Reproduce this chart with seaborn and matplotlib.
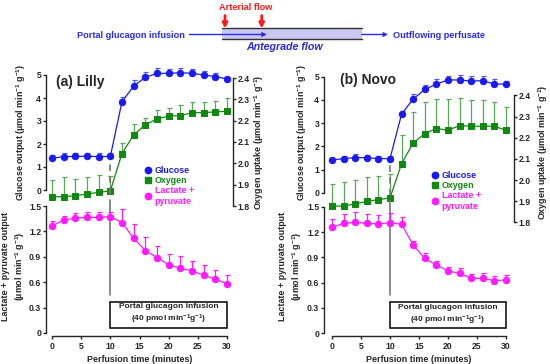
import numpy as np
import matplotlib.pyplot as plt
import seaborn as sns
from matplotlib.lines import Line2D
from matplotlib.patches import Rectangle

sns.set_style('ticks')
plt.rcParams['font.family'] = ['Liberation Sans', 'DejaVu Sans']
plt.rcParams['font.weight'] = 'bold'
plt.rcParams['mathtext.fontset'] = 'custom'
plt.rcParams['mathtext.rm'] = 'Liberation Sans:bold'
plt.rcParams['mathtext.bf'] = 'Liberation Sans:bold'
plt.rcParams['mathtext.default'] = 'rm'

# perfusion time (minutes)
time = np.arange(0, 31, 2)
infusion_start = 10

# (a) Lilly
lilly_glucose = [1.38, 1.45, 1.46, 1.47, 1.45, 1.46, 3.84, 4.52, 4.90, 5.07, 5.07, 5.10, 5.07, 5.00, 4.93, 4.83]
lilly_glucose_err = [0.13, 0.14, 0.15, 0.15, 0.15, 0.14, 0.19, 0.25, 0.25, 0.22, 0.2, 0.2, 0.2, 0.18, 0.15, 0.1]
lilly_oxygen = [1.843, 1.844, 1.848, 1.856, 1.864, 1.871, 2.046, 2.133, 2.181, 2.208, 2.221, 2.224, 2.237, 2.238, 2.241, 2.244]
lilly_oxygen_err = [0.08, 0.09, 0.08, 0.08, 0.08, 0.07, 0.05, 0.05, 0.03, 0.04, 0.04, 0.05, 0.05, 0.05, 0.05, 0.06]
lilly_lactate = [1.264, 1.335, 1.355, 1.366, 1.366, 1.374, 1.304, 1.119, 0.974, 0.891, 0.805, 0.766, 0.734, 0.683, 0.636, 0.581]
lilly_lactate_err = [0.063, 0.05, 0.067, 0.067, 0.067, 0.059, 0.157, 0.17, 0.157, 0.14, 0.13, 0.145, 0.12, 0.12, 0.11, 0.106]

# (b) Novo
novo_glucose = [1.41, 1.47, 1.51, 1.51, 1.47, 1.47, 3.39, 4.04, 4.45, 4.68, 4.86, 4.86, 4.81, 4.83, 4.68, 4.68]
novo_glucose_err = [0.05, 0.13, 0.15, 0.13, 0.12, 0.12, 0.15, 0.2, 0.2, 0.22, 0.18, 0.2, 0.2, 0.18, 0.2, 0.13]
novo_oxygen = [1.876, 1.879, 1.887, 1.900, 1.908, 1.916, 2.078, 2.176, 2.220, 2.244, 2.236, 2.258, 2.255, 2.255, 2.255, 2.236]
novo_oxygen_err = [0.107, 0.11, 0.115, 0.115, 0.114, 0.114, 0.137, 0.147, 0.148, 0.14, 0.148, 0.129, 0.126, 0.123, 0.115, 0.109]
novo_lactate = [1.255, 1.303, 1.314, 1.303, 1.295, 1.311, 1.291, 1.046, 0.888, 0.809, 0.738, 0.711, 0.651, 0.651, 0.624, 0.632]
novo_lactate_err = [0.099, 0.107, 0.118, 0.107, 0.107, 0.11, 0.09, 0.05, 0.06, 0.05, 0.043, 0.06, 0.05, 0.06, 0.055, 0.06]

glucose_ticks = [0, 1, 2, 3, 4, 5]
oxygen_ticks = [1.8, 1.9, 2.0, 2.1, 2.2, 2.3, 2.4]
lactate_ticks = [0, 0.3, 0.6, 0.9, 1.2, 1.5]
time_ticks = [0, 5, 10, 15, 20, 25, 30]

BLUE, BLUE_E = '#1a1aee', '#4a5cff'
GREEN, GREEN_E = '#118811', '#5aa85a'
MAGENTA = '#ff1aff'
FS = 6.4
TFS = 6.2
W, H = 550, 364

fig = plt.figure(figsize=(W / 100, H / 100), dpi=100)


def box(l, t, r, b):
    return [l / W, 1 - b / H, (r - l) / W, (b - t) / H]


def series(ax, y, err, color, ecolor, marker, ms):
    ax.errorbar(time, y, yerr=[np.zeros(len(err)), err], fmt='none', ecolor=ecolor,
                elinewidth=0.9, capsize=1.8, capthick=0.9, clip_on=False, zorder=2)
    sns.lineplot(x=time, y=y, ax=ax, color=color, marker=marker, markersize=ms,
                 markeredgecolor=color, linewidth=0.9, clip_on=False, zorder=3)


def style_ticks(ax, axis='y'):
    ax.tick_params(axis=axis, length=2.5, width=1, labelsize=TFS, pad=1)
    for lab in (ax.get_yticklabels() if axis == 'y' else ax.get_xticklabels()):
        lab.set_fontweight('bold')


def panel(g, label, glu, glu_e, oxy, oxy_e, lac, lac_e):
    k = (g['x30'] - g['x0']) / 30
    xlim = (-(g['x0'] - g['left']) / k, 30 + (g['right'] - g['x30']) / k)

    # glucose (top-left axis)
    ax_g = fig.add_axes(box(g['left'], g['g5'], g['right'], g['g0']))
    ax_g.set_facecolor('none')
    ax_g.set_xlim(*xlim)
    ax_g.set_ylim(0, 5)
    for s in ['top', 'right', 'bottom']:
        ax_g.spines[s].set_visible(False)
    ax_g.set_xticks([])
    ax_g.set_yticks(glucose_ticks)
    ax_g.spines['left'].set_linewidth(1)
    style_ticks(ax_g)
    series(ax_g, glu, glu_e, BLUE, BLUE_E, 'o', 4.6)

    # oxygen (right axis)
    ax_o = fig.add_axes(box(g['left'], g['o24'], g['right'], g['o18']))
    ax_o.set_facecolor('none')
    ax_o.set_xlim(*xlim)
    ax_o.set_ylim(1.8, 2.4)
    for s in ['top', 'left', 'bottom']:
        ax_o.spines[s].set_visible(False)
    ax_o.spines['right'].set_linewidth(1)
    ax_o.set_xticks([])
    ax_o.yaxis.tick_right()
    ax_o.set_yticks(oxygen_ticks)
    ax_o.set_yticklabels([f'{v:.1f}' for v in oxygen_ticks])
    style_ticks(ax_o)
    series(ax_o, oxy, oxy_e, GREEN, GREEN_E, 's', 4.4)

    # lactate + pyruvate (bottom)
    ax_l = fig.add_axes(box(g['left'], g['l15'], g['right'], g['l0']))
    ax_l.set_facecolor('none')
    ax_l.set_xlim(*xlim)
    ax_l.set_ylim(0, 1.5)
    for s in ['top', 'right']:
        ax_l.spines[s].set_visible(False)
    ax_l.spines['bottom'].set_bounds(0, 30)
    ax_l.spines['bottom'].set_position(('outward', 2))
    ax_l.spines['left'].set_linewidth(1)
    ax_l.spines['bottom'].set_linewidth(1)
    ax_l.set_xticks(time_ticks)
    ax_l.set_yticks(lactate_ticks)
    ax_l.set_yticklabels(['0' if v == 0 else f'{v:.1f}' for v in lactate_ticks])
    style_ticks(ax_l, 'y')
    style_ticks(ax_l, 'x')
    ax_l.tick_params(axis='x', pad=2)
    ax_l.set_xlabel('Perfusion time (minutes)', fontsize=FS, fontweight='bold', labelpad=3)
    series(ax_l, lac, lac_e, MAGENTA, MAGENTA, 'o', 4.6)

    # infusion start marker and box
    ax_l.plot([infusion_start] * 2, [1.5, 2.0], color='#777777', lw=1.2, ls=(0, (4, 3)), clip_on=False, zorder=1)
    ax_l.plot([infusion_start] * 2, [0.45, 1.5], color='#777777', lw=1.2, clip_on=False, zorder=1)
    ax_l.add_patch(Rectangle((infusion_start, 0.06), 20, 0.31, facecolor='white', edgecolor='black',
                             lw=1.1, clip_on=False, zorder=4))
    ax_l.text(20, 0.215, 'Portal glucagon infusion\n(40 pmol min$^{-1}$g$^{-1}$)', ha='center', va='center',
              fontsize=6.0, fontweight='bold', linespacing=1.3, zorder=5)

    # legend
    handles = [Line2D([], [], marker='o', ls='none', color=BLUE, markersize=4.6),
               Line2D([], [], marker='s', ls='none', color=GREEN, markersize=4.4),
               Line2D([], [], marker='o', ls='none', color=MAGENTA, markersize=4.6)]
    ax_g.legend(handles, ['Glucose', 'Oxygen', 'Lactate +\npyruvate'], loc='upper left',
                bbox_to_anchor=(g['leg'][0] / W, 1 - g['leg'][1] / H), bbox_transform=fig.transFigure,
                frameon=False, borderpad=0, handlelength=0.8, handletextpad=0.35, labelspacing=0.1,
                prop={'size': FS, 'weight': 'bold'}, labelcolor=[BLUE, GREEN, MAGENTA])

    fig.text(g['title'][0] / W, 1 - g['title'][1] / H, label, fontsize=10, fontweight='bold', va='center')
    fig.text(g['glab'][0] / W, 1 - g['glab'][1] / H, 'Glucose output (µmol min$^{-1}$ g$^{-1}$)',
             rotation=90, ha='center', va='center', fontsize=FS, fontweight='bold')
    fig.text(g['olab'][0] / W, 1 - g['olab'][1] / H, 'Oxygen uptake (µmol min$^{-1}$ g$^{-1}$)',
             rotation=90, ha='center', va='center', fontsize=FS, fontweight='bold')
    fig.text(g['llab'][0] / W, 1 - g['llab'][1] / H, 'Lactate + pyruvate output\n(µmol min$^{-1}$ g$^{-1}$)',
             rotation=90, ha='center', va='center', fontsize=FS, fontweight='bold', linespacing=1.3)


panel(dict(left=46, x0=52, x30=227, right=233, g5=75, g0=190, o24=78, o18=206, l15=206, l0=333,
           leg=(140, 162), title=(56, 82), glab=(21, 133), olab=(259, 142), llab=(14, 266)),
      '(a) Lilly', lilly_glucose, lilly_glucose_err, lilly_oxygen, lilly_oxygen_err, lilly_lactate, lilly_lactate_err)
panel(dict(left=324, x0=332, x30=506, right=514, g5=76.7, g0=192.7, o24=95.5, o18=222.5, l15=206.7, l0=333.3,
           leg=(427, 167), title=(340, 80), glab=(302, 133), olab=(543, 152), llab=(291, 266)),
      '(b) Novo', novo_glucose, novo_glucose_err, novo_oxygen, novo_oxygen_err, novo_lactate, novo_lactate_err)

# flow schematic on top
ax_d = fig.add_axes(box(0, 0, W, 60))
ax_d.set_xlim(0, W)
ax_d.set_ylim(60, 0)
ax_d.axis('off')
ax_d.add_patch(Rectangle((221.7, 28.3), 140, 11, facecolor='#c8c8f2', edgecolor='none'))
ax_d.plot([221.7, 361.7], [28.3, 28.3], color='#333333', lw=1)
ax_d.plot([221.7, 361.7], [39.3, 39.3], color='#333333', lw=1)
arrow = dict(arrowstyle='-|>', color='#2a2aff', lw=1, mutation_scale=6, shrinkA=0, shrinkB=0)
ax_d.annotate('', xy=(266.7, 34.5), xytext=(189.5, 34.5), arrowprops=arrow)
ax_d.annotate('', xy=(388, 34.5), xytext=(361.7, 34.5), arrowprops=arrow)
red_arrow = dict(arrowstyle='-|>', color='#ff1a1a', lw=2, mutation_scale=7, shrinkA=0, shrinkB=0)
for xa in [225, 261.7]:
    ax_d.annotate('', xy=(xa, 28.5), xytext=(xa, 15.5), arrowprops=red_arrow)
ax_d.text(219, 7, 'Arterial flow', color='#ff1a1a', fontsize=6.6, fontweight='bold', va='center')
ax_d.text(77, 35, 'Portal glucagon infusion', color='#2a2aff', fontsize=6.6, fontweight='bold', va='center')
ax_d.text(393, 35, 'Outflowing perfusate', color='#2a2aff', fontsize=6.6, fontweight='bold', va='center')
ax_d.text(246.7, 47, 'Antegrade flow', color='#2a2ae0', fontsize=7.7, fontweight='bold', style='italic',
          va='center')

fig.savefig('out.png', dpi=100)
